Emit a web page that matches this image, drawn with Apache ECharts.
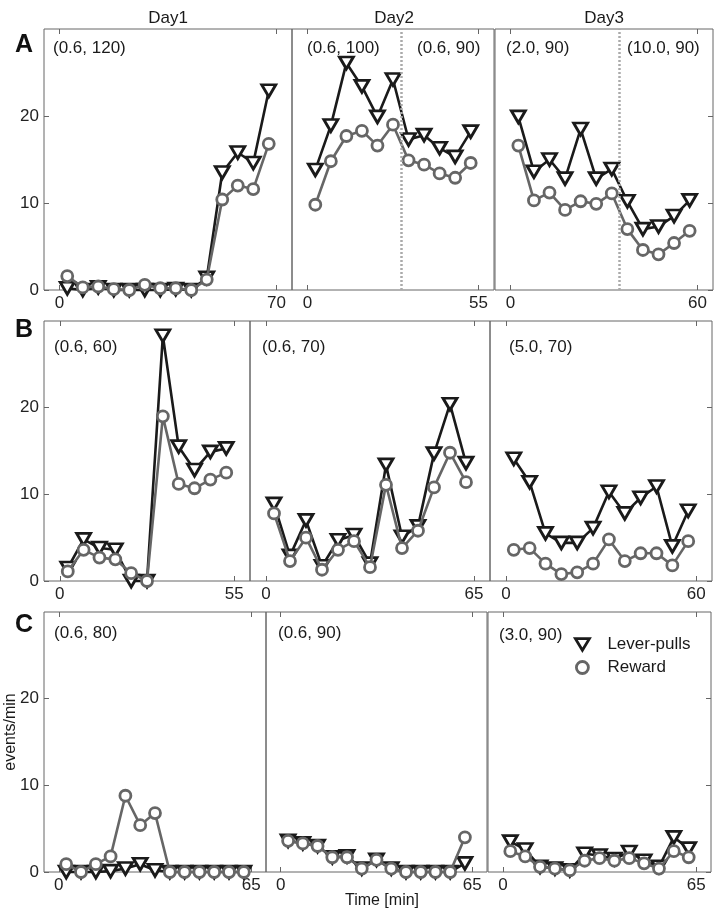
<!DOCTYPE html>
<html>
<head>
<meta charset="utf-8">
<script src="https://cdn.jsdelivr.net/npm/echarts@6/dist/echarts.min.js"></script>
<style>html,body{margin:0;padding:0;background:#fff}#c{width:722px;height:914px}</style>
</head>
<body>
<div id="c"></div>
<script>
// ---- data (events/min, 5-min bins) ----
const timeA1 = [2.5, 7.5, 12.5, 17.5, 22.5, 27.5, 32.5, 37.5, 42.5, 47.5, 52.5, 57.5, 62.5, 67.5];
const leverA1 = [0.2, 0, 0.3, 0, 0, 0, 0, 0.1, 0, 1.4, 13.5, 15.8, 14.6, 22.9];
const rewardA1 = [1.6, 0.3, 0.4, 0.1, 0, 0.6, 0.2, 0.2, 0, 1.2, 10.4, 12.0, 11.6, 16.8];

const timeA2 = [2.5, 7.5, 12.5, 17.5, 22.5, 27.5, 32.5, 37.5, 42.5, 47.5, 52.5];
const leverA2 = [13.8, 18.9, 26.1, 23.4, 19.9, 24.2, 17.3, 17.8, 16.3, 15.3, 18.2];
const rewardA2 = [9.8, 14.8, 17.7, 18.3, 16.6, 19.0, 14.9, 14.4, 13.4, 12.9, 14.6];

const timeA3 = [2.5, 7.5, 12.5, 17.5, 22.5, 27.5, 32.5, 37.5, 42.5, 47.5, 52.5, 57.5];
const leverA3 = [19.9, 13.6, 15.0, 12.8, 18.5, 12.8, 13.9, 10.2, 7.0, 7.3, 8.5, 10.3];
const rewardA3 = [16.6, 10.3, 11.2, 9.2, 10.2, 9.9, 11.1, 7.0, 4.6, 4.1, 5.4, 6.8];

const timeB1 = [2.5, 7.5, 12.5, 17.5, 22.5, 27.5, 32.5, 37.5, 42.5, 47.5, 52.5];
const leverB1 = [1.5, 4.8, 3.8, 3.6, 0, 0, 28.3, 15.5, 12.8, 14.9, 15.3];
const rewardB1 = [1.1, 3.6, 2.7, 2.5, 0.9, 0, 19.0, 11.2, 10.7, 11.7, 12.5];

const timeB2 = [2.5, 7.5, 12.5, 17.5, 22.5, 27.5, 32.5, 37.5, 42.5, 47.5, 52.5, 57.5, 62.5];
const leverB2 = [8.9, 2.9, 7.0, 1.7, 4.7, 5.3, 2.0, 13.4, 5.1, 6.3, 14.7, 20.4, 13.6];
const rewardB2 = [7.8, 2.3, 5.0, 1.3, 3.6, 4.6, 1.6, 11.1, 3.8, 5.8, 10.8, 14.8, 11.4];

const timeB3 = [2.5, 7.5, 12.5, 17.5, 22.5, 27.5, 32.5, 37.5, 42.5, 47.5, 52.5, 57.5];
const leverB3 = [14.1, 11.4, 5.5, 4.4, 4.4, 6.1, 10.3, 7.8, 9.6, 10.9, 4.0, 8.1];
const rewardB3 = [3.6, 3.8, 2.0, 0.8, 1.0, 2.0, 4.8, 2.3, 3.2, 3.2, 1.8, 4.6];

const timeC1 = [2.5, 7.5, 12.5, 17.5, 22.5, 27.5, 32.5, 37.5, 42.5, 47.5, 52.5, 57.5, 62.5];
const leverC1 = [0, 0, 0, 0.1, 0.4, 0.9, 0.2, 0, 0, 0, 0, 0, 0];
const rewardC1 = [0.9, 0, 0.9, 1.8, 8.8, 5.4, 6.8, 0, 0, 0, 0, 0, 0];

const timeC2 = [2.5, 7.5, 12.5, 17.5, 22.5, 27.5, 32.5, 37.5, 42.5, 47.5, 52.5, 57.5, 62.5];
const leverC2 = [3.6, 3.3, 3.0, 1.7, 1.8, 0.4, 1.4, 0.4, 0, 0, 0, 0, 1.0];
const rewardC2 = [3.6, 3.3, 3.0, 1.7, 1.7, 0.4, 1.4, 0.4, 0, 0, 0, 0, 4.0];

const timeC3 = [2.5, 7.5, 12.5, 17.5, 22.5, 27.5, 32.5, 37.5, 42.5, 47.5, 52.5, 57.5, 62.5];
const leverC3 = [3.5, 2.6, 0.6, 0.4, 0.2, 2.1, 1.9, 1.5, 2.3, 1.3, 0.6, 4.0, 2.7];
const rewardC3 = [2.4, 1.8, 0.6, 0.4, 0.2, 1.3, 1.6, 1.3, 1.6, 1.0, 0.4, 2.4, 1.7];

// axis tick labels
const yTicks = [0, 10, 20];
const xEndA = [70, 55, 60];
const xEndB = [55, 65, 60];
const xEndC = [65, 65, 65];
const dayLabels = ['Day1', 'Day2', 'Day3'];
const rowLetters = ['A', 'B', 'C'];
const conditionLabels = {
  A1: ['(0.6, 120)'], A2: ['(0.6, 100)', '(0.6, 90)'], A3: ['(2.0, 90)', '(10.0, 90)'],
  B1: ['(0.6, 60)'], B2: ['(0.6, 70)'], B3: ['(5.0, 70)'],
  C1: ['(0.6, 80)'], C2: ['(0.6, 90)'], C3: ['(3.0, 90)']
};
const switchTimes = { A2: 30, A3: 35 };

// ---- layout ----
const FONT = '"Liberation Sans", Arial, sans-serif';
const rowTop = [29, 321, 612];
const rowH = [261, 260, 260];
const layout = [
  [[44, 248], [292, 202], [495, 218]],
  [[44, 206], [250, 240], [490, 222]],
  [[44, 222], [266, 221], [488, 223]]
];
const xMax = [[75, 60, 65], [60, 70, 65], [70, 70, 70]];
const xEnds = [xEndA, xEndB, xEndC];
const panelData = [
  [[timeA1, leverA1, rewardA1], [timeA2, leverA2, rewardA2], [timeA3, leverA3, rewardA3]],
  [[timeB1, leverB1, rewardB1], [timeB2, leverB2, rewardB2], [timeB3, leverB3, rewardB3]],
  [[timeC1, leverC1, rewardC1], [timeC2, leverC2, rewardC2], [timeC3, leverC3, rewardC3]]
];
// annotation positions (x, y) in px
const labelPos = {
  A1: [[53, 48]], A2: [[307, 48], [417, 48]], A3: [[506, 48], [627, 48]],
  B1: [[54, 347]], B2: [[262, 347]], B3: [[509, 347]],
  C1: [[54, 633]], C2: [[278, 633]], C3: [[499, 635]]
};

const grids = [], xAxes = [], yAxes = [], series = [], graphics = [];
const axisCol = '#666';
let g = 0;
for (let r = 0; r < 3; r++) {
  for (let c = 0; c < 3; c++) {
    const [left, width] = layout[r][c];
    grids.push({ left, top: rowTop[r], width, height: rowH[r], show: true, borderColor: axisCol, borderWidth: 1, backgroundColor: 'transparent' });
    const ends = [0, xEnds[r][c]];
    xAxes.push({
      gridIndex: g, type: 'value', position: 'bottom', min: -5, max: xMax[r][c],
      axisLine: { show: false, onZero: false }, splitLine: { show: false },
      axisTick: { show: true, inside: true, length: 5, customValues: ends, lineStyle: { color: axisCol } },
      axisLabel: { show: true, customValues: ends, margin: 5, color: '#222', fontSize: 17, fontFamily: FONT }
    });
    xAxes.push({
      gridIndex: g, type: 'value', position: 'top', min: -5, max: xMax[r][c],
      axisLine: { show: false, onZero: false }, splitLine: { show: false },
      axisTick: { show: true, inside: true, length: 5, customValues: ends, lineStyle: { color: axisCol } },
      axisLabel: { show: false }
    });
    yAxes.push({
      gridIndex: g, type: 'value', min: 0, max: 30, interval: 10,
      position: c === 2 ? 'right' : 'left',
      axisLine: { show: false, onZero: false }, splitLine: { show: false },
      axisTick: { show: c !== 1, inside: true, length: 5, customValues: yTicks, lineStyle: { color: axisCol } },
      axisLabel: { show: c === 0, customValues: yTicks, margin: 5, color: '#222', fontSize: 17, fontFamily: FONT }
    });
    const [t, lev, rew] = panelData[r][c];
    const key = rowLetters[r] + (c + 1);
    const leverSeries = {
      name: 'Lever-pulls', type: 'line', xAxisIndex: 2 * g, yAxisIndex: g, clip: false,
      data: t.map((x, i) => [x, lev[i]]),
      symbol: 'triangle', symbolRotate: 180, symbolSize: [14, 12],
      lineStyle: { color: '#1a1a1a', width: 2.6 },
      itemStyle: { color: '#fff', borderColor: '#1a1a1a', borderWidth: 2.8 },
      emphasis: { disabled: true }, animation: false, z: 3
    };
    if (switchTimes[key] !== undefined) {
      leverSeries.markLine = {
        silent: true, symbol: ['none', 'none'], label: { show: false },
        lineStyle: { color: '#aaa', type: [2, 2], width: 2.5 },
        data: [{ xAxis: switchTimes[key] }]
      };
    }
    series.push(leverSeries);
    series.push({
      name: 'Reward', type: 'line', xAxisIndex: 2 * g, yAxisIndex: g, clip: false,
      data: t.map((x, i) => [x, rew[i]]),
      symbol: 'circle', symbolSize: 11,
      lineStyle: { color: '#666', width: 2.6 },
      itemStyle: { color: '#fff', borderColor: '#666', borderWidth: 2.8 },
      emphasis: { disabled: true }, animation: false, z: 4
    });
    conditionLabels[key].forEach((txt, i) => {
      const [x, y] = labelPos[key][i];
      graphics.push({ type: 'text', z: 10, style: { text: txt, x, y, font: '17px ' + FONT, fill: '#1a1a1a', textAlign: 'left', textVerticalAlign: 'middle' } });
    });
    g++;
  }
}
// day headers
const dayCenters = [168, 394, 604];
dayLabels.forEach((d, i) => graphics.push({ type: 'text', style: { text: d, x: dayCenters[i], y: 18, font: '17px ' + FONT, fill: '#1a1a1a', textAlign: 'center', textVerticalAlign: 'middle' } }));
// row letters
const letterY = [45, 330, 625];
rowLetters.forEach((l, i) => graphics.push({ type: 'text', style: { text: l, x: 15, y: letterY[i], font: 'bold 25px ' + FONT, fill: '#111', textAlign: 'left', textVerticalAlign: 'middle' } }));
// axis titles
graphics.push({ type: 'text', rotation: Math.PI / 2, x: 11, y: 732, style: { text: 'events/min', x: 0, y: 0, font: '16px ' + FONT, fill: '#1a1a1a', textAlign: 'center', textVerticalAlign: 'middle' } });
graphics.push({ type: 'text', style: { text: 'Time [min]', x: 382, y: 901, font: '16px ' + FONT, fill: '#1a1a1a', textAlign: 'center', textVerticalAlign: 'middle' } });

const chart = echarts.init(document.getElementById('c'), null, { renderer: 'canvas' });
chart.setOption({
  animation: false,
  backgroundColor: '#fff',
  grid: grids, xAxis: xAxes, yAxis: yAxes, series,
  legend: {
    orient: 'vertical', left: 569, top: 631, itemGap: 6, itemWidth: 14, itemHeight: 12,
    selectedMode: false,
    textStyle: { fontSize: 17, fontFamily: FONT, color: '#1a1a1a', padding: [0, 0, 0, 13] },
    data: [
      { name: 'Lever-pulls', icon: 'path://M0,0 L12,0 L6,10 Z', itemStyle: { color: '#fff', borderColor: '#1a1a1a', borderWidth: 2.8 } },
      { name: 'Reward', icon: 'circle', itemStyle: { color: '#fff', borderColor: '#666', borderWidth: 2.8 } }
    ]
  },
  graphic: graphics
});
</script>
</body>
</html>
